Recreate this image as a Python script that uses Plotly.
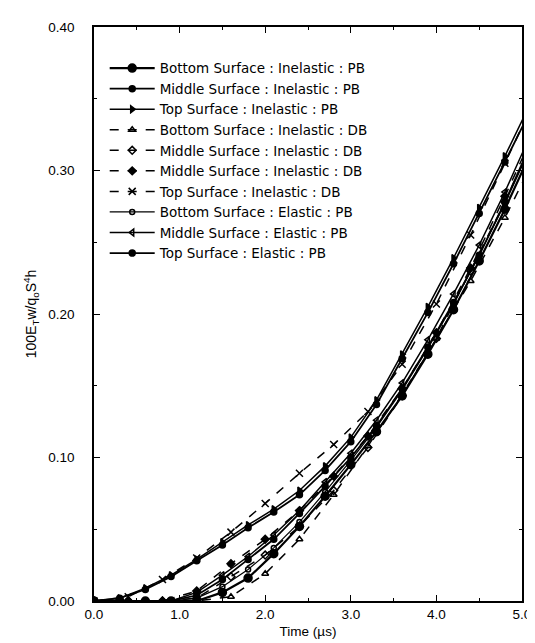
import plotly.graph_objects as go

# ---- data ----
t_pb = [0.0, 0.3, 0.6, 0.9, 1.2, 1.5, 1.8, 2.1, 2.4, 2.7, 3.0, 3.3, 3.6, 3.9, 4.2, 4.5, 4.8, 5.1]
t_db = [0.0, 0.4, 0.8, 1.2, 1.6, 2.0, 2.4, 2.8, 3.2, 3.6, 4.0, 4.4, 4.8, 5.2]

bottom_inel_pb = [0, 0, 0, 0, 0, 0.006, 0.016, 0.033, 0.052, 0.073, 0.095, 0.118, 0.143, 0.172, 0.203, 0.237, 0.273, 0.312]
middle_inel_pb = [0, 0, 0, 0, 0.004, 0.015, 0.029, 0.043, 0.061, 0.080, 0.100, 0.122, 0.148, 0.177, 0.208, 0.241, 0.278, 0.318]
top_inel_pb = [0, 0.002, 0.009, 0.018, 0.029, 0.041, 0.053, 0.064, 0.077, 0.094, 0.114, 0.140, 0.172, 0.205, 0.239, 0.274, 0.310, 0.347]
bottom_inel_db = [0, 0, 0, 0, 0.003, 0.019, 0.043, 0.074, 0.108, 0.144, 0.183, 0.223, 0.267, 0.315]
middle_inel_db_a = [0, 0, 0, 0.002, 0.017, 0.032, 0.052, 0.077, 0.107, 0.143, 0.183, 0.230, 0.278, 0.330]
middle_inel_db_b = [0, 0, 0, 0.007, 0.026, 0.043, 0.063, 0.087, 0.115, 0.148, 0.187, 0.232, 0.282, 0.334]
top_inel_db = [0, 0.003, 0.015, 0.030, 0.048, 0.068, 0.089, 0.109, 0.132, 0.165, 0.207, 0.255, 0.305, 0.356]
bottom_el_pb = [0, 0, 0, 0, 0.002, 0.010, 0.022, 0.037, 0.055, 0.076, 0.098, 0.121, 0.147, 0.176, 0.207, 0.241, 0.277, 0.316]
middle_el_pb = [0, 0, 0, 0, 0.006, 0.018, 0.031, 0.046, 0.063, 0.083, 0.103, 0.126, 0.152, 0.182, 0.214, 0.248, 0.285, 0.325]
top_el_pb = [0, 0.002, 0.008, 0.017, 0.028, 0.039, 0.051, 0.062, 0.074, 0.091, 0.111, 0.137, 0.169, 0.201, 0.235, 0.270, 0.306, 0.342]

names = [
    "Bottom Surface : Inelastic : PB",
    "Middle Surface : Inelastic : PB",
    "Top Surface : Inelastic : PB",
    "Bottom Surface : Inelastic : DB",
    "Middle Surface : Inelastic : DB",
    "Middle Surface : Inelastic : DB",
    "Top Surface : Inelastic : DB",
    "Bottom Surface : Elastic : PB",
    "Middle Surface : Elastic : PB",
    "Top Surface : Elastic : PB",
]

series = [
    (t_pb, bottom_inel_pb, "solid", 2.2, "circle", 8),
    (t_pb, middle_inel_pb, "solid", 1.8, "circle", 6),
    (t_pb, top_inel_pb, "solid", 1.5, "triangle-right", 6),
    (t_db, bottom_inel_db, "dash", 1.5, "triangle-up-open", 6),
    (t_db, middle_inel_db_a, "dash", 1.5, "diamond-open", 6),
    (t_db, middle_inel_db_b, "dash", 1.5, "diamond", 6),
    (t_db, top_inel_db, "dash", 1.5, "x-thin-open", 7),
    (t_pb, bottom_el_pb, "solid", 1.2, "circle-open", 5),
    (t_pb, middle_el_pb, "solid", 1.5, "triangle-left-open", 6),
    (t_pb, top_el_pb, "solid", 1.8, "circle", 6),
]

fig = go.Figure()
for i, (tx, vy, dash, lw, sym, ms) in enumerate(series):
    fig.add_trace(go.Scatter(
        x=tx, y=vy, name=names[i], mode="lines+markers",
        line=dict(color="black", width=lw, dash=dash),
        marker=dict(symbol=sym, size=ms, color="black",
                    line=dict(color="black", width=1.5)),
    ))

tick_font = dict(family="Liberation Sans, Arial", size=13.5, color="black")
axis_common = dict(
    showline=True, linecolor="black", linewidth=1.5, mirror="ticks",
    ticks="inside", ticklen=6, tickwidth=1.2, tickcolor="black",
    showgrid=False, zeroline=False, tickfont=tick_font,
)

fig.update_layout(
    width=535, height=643,
    margin=dict(l=86, r=13, t=17, b=50),
    paper_bgcolor="white", plot_bgcolor="white",
    font=dict(family="Liberation Sans, Arial", size=13.5, color="black"),
    xaxis=dict(range=[0, 5], dtick=1.0, tickformat=".1f",
               minor=dict(dtick=0.5, ticks="inside", ticklen=3, tickcolor="black"),
               title=dict(text="Time (µs)", standoff=6,
                          font=dict(family="Liberation Sans, Arial", size=13.5)),
               **axis_common),
    yaxis=dict(range=[0, 0.4], dtick=0.1, tickformat=".2f",
               minor=dict(dtick=0.05, ticks="inside", ticklen=3, tickcolor="black"),
               ticklabelstandoff=15,
               title=dict(text="100E<sub>T</sub>w/q<sub>o</sub>S<sup>4</sup>h", standoff=8,
                          font=dict(family="Liberation Sans, Arial", size=14)),
               **axis_common),
    legend=dict(x=0.025, y=0.955, xanchor="left", yanchor="top",
                bgcolor="rgba(0,0,0,0)", borderwidth=0,
                font=dict(family="DejaVu Sans", size=13.5, color="black"),
                itemwidth=45, tracegroupgap=0, traceorder="normal"),
    showlegend=True,
)

fig.write_html("out.html")
